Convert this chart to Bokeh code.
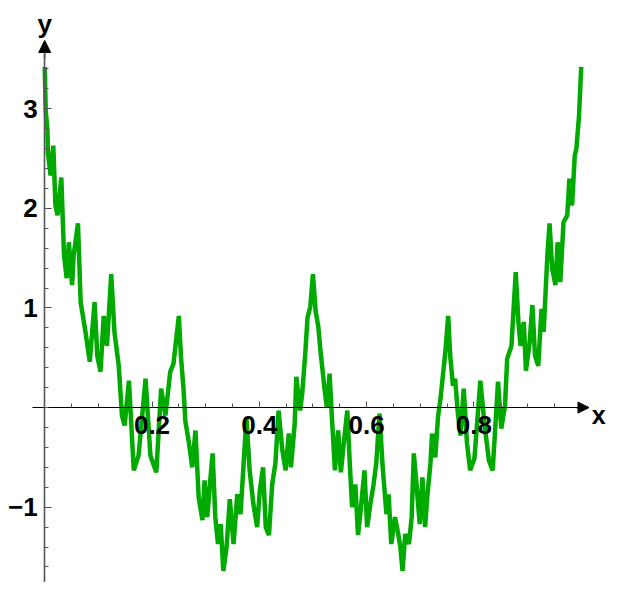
from bokeh.plotting import figure
from bokeh.models import FixedTicker, Arrow, NormalHead, Label
from bokeh.embed import file_html
from bokeh.resources import INLINE

# ---- data ----
xs = [0.000, 0.002, 0.005, 0.006, 0.011, 0.016, 0.020, 0.024, 0.031, 0.036,
      0.041, 0.045, 0.051, 0.054, 0.062, 0.067, 0.076, 0.084, 0.093, 0.098,
      0.104, 0.110, 0.116, 0.124, 0.130, 0.138, 0.144, 0.149, 0.157, 0.166,
      0.175, 0.188, 0.197, 0.208, 0.217, 0.225, 0.234, 0.240, 0.250, 0.254,
      0.259, 0.262, 0.269, 0.275, 0.281, 0.287, 0.294, 0.298, 0.303, 0.308,
      0.313, 0.318, 0.323, 0.328, 0.333, 0.339, 0.345, 0.352, 0.359, 0.365,
      0.370, 0.376, 0.382, 0.389, 0.396, 0.401, 0.407, 0.412, 0.418, 0.424,
      0.430, 0.436, 0.443, 0.449, 0.455, 0.459, 0.466, 0.469, 0.476, 0.480,
      0.486, 0.490, 0.495, 0.500, 0.505, 0.510, 0.514, 0.518, 0.522, 0.526,
      0.531, 0.536, 0.541, 0.547, 0.552, 0.558, 0.564, 0.569, 0.573, 0.579,
      0.584, 0.589, 0.596, 0.601, 0.607, 0.613, 0.618, 0.624, 0.630, 0.637,
      0.641, 0.646, 0.653, 0.659, 0.663, 0.667, 0.672, 0.679, 0.684, 0.688,
      0.693, 0.699, 0.704, 0.709, 0.713, 0.719, 0.722, 0.728, 0.733, 0.738,
      0.742, 0.747, 0.752, 0.756, 0.761, 0.765, 0.770, 0.775, 0.781, 0.787,
      0.793, 0.801, 0.812, 0.820, 0.828, 0.835, 0.845, 0.851, 0.858, 0.862,
      0.870, 0.878, 0.883, 0.887, 0.893, 0.897, 0.904, 0.909, 0.914, 0.920,
      0.926, 0.930, 0.937, 0.941, 0.946, 0.952, 0.956, 0.961, 0.967, 0.974,
      0.978, 0.983, 0.988, 0.991, 0.996, 1.000]
ys = [3.42, 2.97, 2.80, 2.56, 2.33, 2.63, 2.03, 1.93, 2.31, 1.53,
      1.30, 1.66, 1.23, 1.53, 1.85, 1.06, 0.76, 0.46, 1.06, 0.52,
      0.36, 0.92, 0.62, 1.34, 0.76, 0.42, -0.08, -0.18, 0.27, -0.63,
      -0.48, 0.29, -0.48, -0.65, 0.19, -0.08, 0.36, 0.44, 0.92, 0.51,
      0.17, -0.13, -0.36, -0.60, -0.23, -0.90, -1.13, -0.73, -1.10, -0.77,
      -0.46, -1.10, -1.37, -1.17, -1.64, -1.40, -0.92, -1.37, -0.87, -1.07,
      -0.63, -0.10, -0.63, -0.97, -1.20, -0.83, -0.60, -1.20, -1.28, -0.77,
      -0.56, -0.03, -0.43, -0.63, -0.26, -0.60, -0.16, 0.31, -0.03, 0.14,
      0.57, 0.91, 1.01, 1.34, 0.97, 0.81, 0.57, 0.37, 0.17, 0.00,
      0.34, -0.16, -0.63, -0.23, -0.65, -0.33, -0.03, -0.60, -1.00, -0.77,
      -1.28, -1.03, -0.63, -1.20, -0.97, -0.77, -0.56, -0.06, -0.60, -1.07,
      -0.87, -1.37, -1.10, -1.27, -1.40, -1.64, -1.27, -1.37, -1.10, -0.46,
      -0.77, -1.17, -0.70, -1.20, -0.90, -0.56, -0.26, -0.50, -0.10, 0.10,
      0.31, 0.57, 0.92, 0.51, 0.22, 0.29, -0.05, -0.28, 0.19, -0.35,
      -0.63, -0.51, 0.27, -0.18, -0.53, -0.63, 0.26, -0.21, 0.02, 0.49,
      0.62, 1.36, 0.86, 0.62, 0.86, 0.37, 0.66, 1.03, 0.52, 0.42,
      0.99, 0.76, 1.53, 1.85, 1.39, 1.23, 1.66, 1.26, 1.86, 1.93,
      2.30, 2.03, 2.53, 2.60, 2.93, 3.42]

x_ticks = [0.2, 0.4, 0.6, 0.8]
x_tick_labels = ["0.2", "0.4", "0.6", "0.8"]
x_minor = [0.05, 0.1, 0.15, 0.2, 0.25, 0.3, 0.35, 0.4, 0.45, 0.5,
           0.55, 0.6, 0.65, 0.7, 0.75, 0.8, 0.85, 0.9, 0.95]
y_ticks = [-1, 1, 2, 3]
y_tick_labels = ["\u22121", "1", "2", "3"]
y_minor = [-1.8, -1.6, -1.4, -1.2, -1.0, -0.8, -0.6, -0.4, -0.2, 0.0,
           0.2, 0.4, 0.6, 0.8, 1.0, 1.2, 1.4, 1.6, 1.8, 2.0,
           2.2, 2.4, 2.6, 2.8, 3.0, 3.2, 3.4]

FONT = "Liberation Sans"

p = figure(width=606, height=582,
           x_range=(-0.08239, 1.04716), y_range=(-1.756, 4.0873),
           output_backend="svg", toolbar_location=None, min_border=0)
p.grid.visible = False
p.outline_line_color = None

p.line(xs, ys, line_color="#00AA00", line_width=4.5)

# x axis through y = 0
xa = p.xaxis[0]
xa.fixed_location = 0
xa.bounds = (-0.0227, 1.0)
xa.ticker = FixedTicker(ticks=x_ticks, minor_ticks=x_minor)
xa.major_label_overrides = {t: l for t, l in zip(x_ticks, x_tick_labels)}
xa.axis_line_color = "black"
xa.axis_line_width = 1.2
xa.major_tick_in = 6
xa.major_tick_out = 0
xa.minor_tick_in = 4
xa.minor_tick_out = 0
xa.major_tick_line_color = "#444444"
xa.minor_tick_line_color = "#555555"
xa.major_label_standoff = 8
xa.major_label_text_font = FONT
xa.major_label_text_font_style = "bold"
xa.major_label_text_font_size = "26px"
xa.major_label_text_color = "black"

# y axis through x = 0
ya = p.yaxis[0]
ya.fixed_location = 0
ya.bounds = (-1.95, 3.56)
ya.ticker = FixedTicker(ticks=y_ticks, minor_ticks=y_minor)
ya.major_label_overrides = {t: l for t, l in zip(y_ticks, y_tick_labels)}
ya.axis_line_color = "#555555"
ya.axis_line_width = 1.6
ya.major_tick_in = 7
ya.major_tick_out = 0
ya.minor_tick_in = 4
ya.minor_tick_out = 0
ya.major_tick_line_color = "#444444"
ya.minor_tick_line_color = "#555555"
ya.major_label_standoff = 7
ya.major_label_text_font = FONT
ya.major_label_text_font_style = "bold"
ya.major_label_text_font_size = "26px"
ya.major_label_text_color = "black"

# arrow heads
p.add_layout(Arrow(end=NormalHead(size=11, fill_color="black", line_color="black"),
                   x_start=0.99, y_start=0, x_end=1.0145, y_end=0,
                   line_color="black", line_width=1.2))
p.add_layout(Arrow(end=NormalHead(size=12, fill_color="black", line_color="black"),
                   x_start=0, y_start=3.5, x_end=0, y_end=3.686,
                   line_color="#555555", line_width=1.6))

# axis labels
p.add_layout(Label(x=0, y=3.856, text="y", text_align="center",
                   text_baseline="alphabetic", text_font=FONT,
                   text_font_style="bold", text_font_size="26px",
                   text_color="black"))
p.add_layout(Label(x=1.0327, y=-0.079, text="x", text_align="center",
                   text_baseline="alphabetic", text_font=FONT,
                   text_font_style="bold", text_font_size="25px",
                   text_color="black"))

open("out.html", "w").write(file_html(p, INLINE))
